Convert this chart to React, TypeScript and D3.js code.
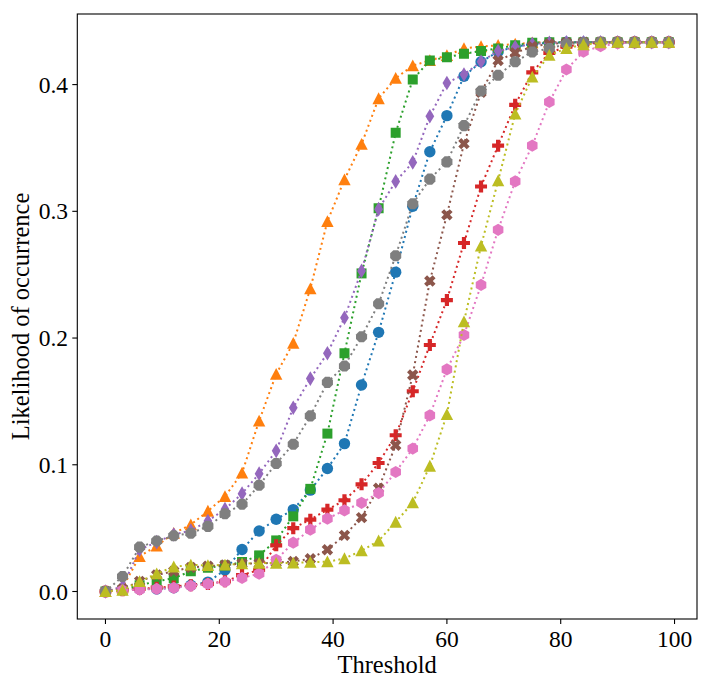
import { useMemo } from 'react'
import * as d3 from 'd3'

// thresholds 0..99 step 3
const thresholds = [0, 3, 6, 9, 12, 15, 18, 21, 24, 27, 30, 33, 36, 39, 42, 45, 48, 51, 54, 57, 60, 63, 66, 69, 72, 75, 78, 81, 84, 87, 90, 93, 96, 99]

const blueVals = [0, 0.001, 0.002, 0.002, 0.003, 0.005, 0.0074, 0.017, 0.0332, 0.0477, 0.057, 0.0646, 0.08, 0.097, 0.1167, 0.163, 0.2045, 0.252, 0.304, 0.347, 0.3755, 0.4066, 0.418, 0.426, 0.43, 0.432, 0.433, 0.4334, 0.4334, 0.4334, 0.4334, 0.4334, 0.4334, 0.4334]
const orangeVals = [0, 0.003, 0.0277, 0.036, 0.046, 0.0527, 0.0635, 0.075, 0.0935, 0.1346, 0.1715, 0.196, 0.239, 0.292, 0.325, 0.353, 0.389, 0.405, 0.415, 0.419, 0.423, 0.4285, 0.43, 0.431, 0.432, 0.433, 0.4334, 0.4334, 0.4334, 0.4334, 0.4334, 0.4334, 0.4334, 0.4334]
const greenVals = [0, 0.001, 0.005, 0.008, 0.0105, 0.016, 0.0187, 0.0205, 0.0232, 0.0285, 0.0403, 0.0593, 0.081, 0.1246, 0.188, 0.251, 0.3025, 0.362, 0.404, 0.419, 0.4216, 0.4243, 0.4265, 0.4285, 0.4311, 0.433, 0.4334, 0.4334, 0.4334, 0.4334, 0.4334, 0.4334, 0.4334, 0.4334]
const redVals = [0, 0.001, 0.002, 0.003, 0.004, 0.005, 0.006, 0.008, 0.013, 0.017, 0.0364, 0.05, 0.0567, 0.0646, 0.072, 0.0846, 0.1014, 0.1233, 0.158, 0.1945, 0.23, 0.275, 0.3196, 0.3518, 0.384, 0.4097, 0.425, 0.43, 0.432, 0.433, 0.4334, 0.4334, 0.4334, 0.4334]
const purpleVals = [0, 0.004, 0.033, 0.039, 0.045, 0.048, 0.0556, 0.065, 0.0772, 0.093, 0.111, 0.145, 0.168, 0.188, 0.216, 0.253, 0.3017, 0.3236, 0.3386, 0.375, 0.4013, 0.408, 0.418, 0.4265, 0.4296, 0.432, 0.433, 0.4334, 0.4334, 0.4334, 0.4334, 0.4334, 0.4334, 0.4334]
const brownVals = [0, 0.002, 0.008, 0.013, 0.016, 0.019, 0.02, 0.021, 0.022, 0.022, 0.0228, 0.0237, 0.0258, 0.033, 0.0443, 0.0583, 0.0815, 0.1154, 0.1708, 0.245, 0.2972, 0.3534, 0.394, 0.419, 0.425, 0.43, 0.432, 0.433, 0.4334, 0.4334, 0.4334, 0.4334, 0.4334, 0.4334]
const pinkVals = [0, 0.001, 0.0015, 0.002, 0.0028, 0.0045, 0.006, 0.0077, 0.0107, 0.014, 0.025, 0.0385, 0.0488, 0.0575, 0.064, 0.07, 0.0777, 0.0943, 0.1128, 0.139, 0.1753, 0.2024, 0.2419, 0.2854, 0.3236, 0.3518, 0.3863, 0.4119, 0.4259, 0.4303, 0.4325, 0.4334, 0.4334, 0.4334]
const grayVals = [0, 0.0119, 0.035, 0.0398, 0.044, 0.046, 0.0514, 0.0614, 0.0688, 0.0838, 0.101, 0.1162, 0.1386, 0.165, 0.178, 0.201, 0.227, 0.265, 0.306, 0.3254, 0.339, 0.3676, 0.395, 0.4074, 0.418, 0.4257, 0.4285, 0.432, 0.433, 0.4334, 0.4334, 0.4334, 0.4334, 0.4334]
const oliveVals = [0, 0.001, 0.008, 0.014, 0.0195, 0.021, 0.0206, 0.021, 0.022, 0.0224, 0.0224, 0.0226, 0.0232, 0.0235, 0.026, 0.0322, 0.04, 0.0548, 0.0701, 0.099, 0.1397, 0.2129, 0.2727, 0.3241, 0.3768, 0.406, 0.4232, 0.4285, 0.4316, 0.433, 0.4334, 0.4334, 0.4334, 0.4334]

const seriesColors = ['#1f77b4', '#ff7f0e', '#2ca02c', '#d62728', '#9467bd', '#8c564b', '#e377c2', '#7f7f7f', '#bcbd22']
const seriesMarkers = ['o', '^', 's', 'P', 'd', 'X', 'h', '8', '^']
const seriesValues = [blueVals, orangeVals, greenVals, redVals, purpleVals, brownVals, pinkVals, grayVals, oliveVals]

const xTicks = [0, 20, 40, 60, 80, 100]
const yTicks = [0, 0.1, 0.2, 0.3, 0.4]

const WIDTH = 712
const HEIGHT = 689
const FONT = '"Liberation Serif", "DejaVu Serif", serif'

// marker outlines in local pixel coords
const polygon = (pts: number[][]) => 'M' + pts.map(p => p.join(',')).join('L') + 'Z'
const regular = (n: number, r: number, start: number) =>
  polygon(d3.range(n).map(i => {
    const a = start + (i * 2 * Math.PI) / n
    return [r * Math.cos(a), r * Math.sin(a)]
  }))

const markerPath = (m: string) => {
  switch (m) {
    case 'o':
      return d3.symbol(d3.symbolCircle, Math.PI * 5.7 * 5.7)() as string
    case '^':
      return polygon([[0, -6.2], [-6.2, 5.6], [6.2, 5.6]])
    case 's':
      return polygon([[-5, -5], [5, -5], [5, 5], [-5, 5]])
    case 'd':
      return polygon([[0, -7.3], [4.4, 0], [0, 7.3], [-4.4, 0]])
    case 'P': {
      const a = 2.1, b = 6
      return polygon([[-a, -b], [a, -b], [a, -a], [b, -a], [b, a], [a, a], [a, b], [-a, b], [-a, a], [-b, a], [-b, -a], [-a, -a]])
    }
    case 'X': {
      const a = 2.1, b = 6
      const pts = [[-a, -b], [a, -b], [a, -a], [b, -a], [b, a], [a, a], [a, b], [-a, b], [-a, a], [-b, a], [-b, -a], [-a, -a]]
      const c = Math.SQRT1_2
      return polygon(pts.map(([px, py]) => [(px - py) * c, (px + py) * c]))
    }
    case 'h':
      return regular(6, 6.1, -Math.PI / 2)
    case '8':
      return regular(8, 6, Math.PI / 8)
    default:
      return ''
  }
}

export default function App() {
  const margin = { left: 77.3, right: 697, top: 14, bottom: 619 }

  const x = useMemo(() => d3.scaleLinear().domain([-4.95, 103.95]).range([margin.left, margin.right]), [])
  const y = useMemo(() => d3.scaleLinear().domain([-0.0217, 0.4557]).range([margin.bottom, margin.top]), [])

  const line = d3.line<number>()
    .x((_d, i) => x(thresholds[i]))
    .y(d => y(d))

  return (
    <svg width={WIDTH} height={HEIGHT} style={{ position: 'absolute', left: 0, top: 0, background: '#fff' }}>
      <rect x={0} y={0} width={WIDTH} height={HEIGHT} fill="#fff" />
      <defs>
        <clipPath id="plot-clip">
          <rect x={margin.left} y={margin.top} width={margin.right - margin.left} height={margin.bottom - margin.top} />
        </clipPath>
      </defs>

      <g clipPath="url(#plot-clip)">
        {seriesValues.map((vals, si) => (
          <g key={si}>
            <path
              d={line(vals) as string}
              fill="none"
              stroke={seriesColors[si]}
              strokeWidth={2}
              strokeDasharray="2 3.3"
            />
            {vals.map((v, i) => (
              <path
                key={i}
                d={markerPath(seriesMarkers[si])}
                transform={`translate(${x(thresholds[i])},${y(v)})`}
                fill={seriesColors[si]}
              />
            ))}
          </g>
        ))}
      </g>

      {/* frame */}
      <rect
        x={margin.left}
        y={margin.top}
        width={margin.right - margin.left}
        height={margin.bottom - margin.top}
        fill="none"
        stroke="#000"
        strokeWidth={1.1}
      />

      {/* x axis */}
      {xTicks.map(t => (
        <g key={t}>
          <line x1={x(t)} x2={x(t)} y1={margin.bottom} y2={margin.bottom + 5} stroke="#000" strokeWidth={1.1} />
          <text x={x(t)} y={646.5} textAnchor="middle" fontFamily={FONT} fontSize={23.5}>{t}</text>
        </g>
      ))}

      {/* y axis */}
      {yTicks.map(t => (
        <g key={t}>
          <line x1={margin.left - 5} x2={margin.left} y1={y(t)} y2={y(t)} stroke="#000" strokeWidth={1.1} />
          <text x={68} y={y(t) + 8} textAnchor="end" fontFamily={FONT} fontSize={23.5}>{t.toFixed(1)}</text>
        </g>
      ))}

      <text x={(margin.left + margin.right) / 2} y={673} textAnchor="middle" fontFamily={FONT} fontSize={24.5}>Threshold</text>
      <text
        transform={`translate(28.5,${(margin.top + margin.bottom) / 2}) rotate(-90)`}
        textAnchor="middle"
        fontFamily={FONT}
        fontSize={24.5}
      >
        Likelihood of occurrence
      </text>
    </svg>
  )
}
